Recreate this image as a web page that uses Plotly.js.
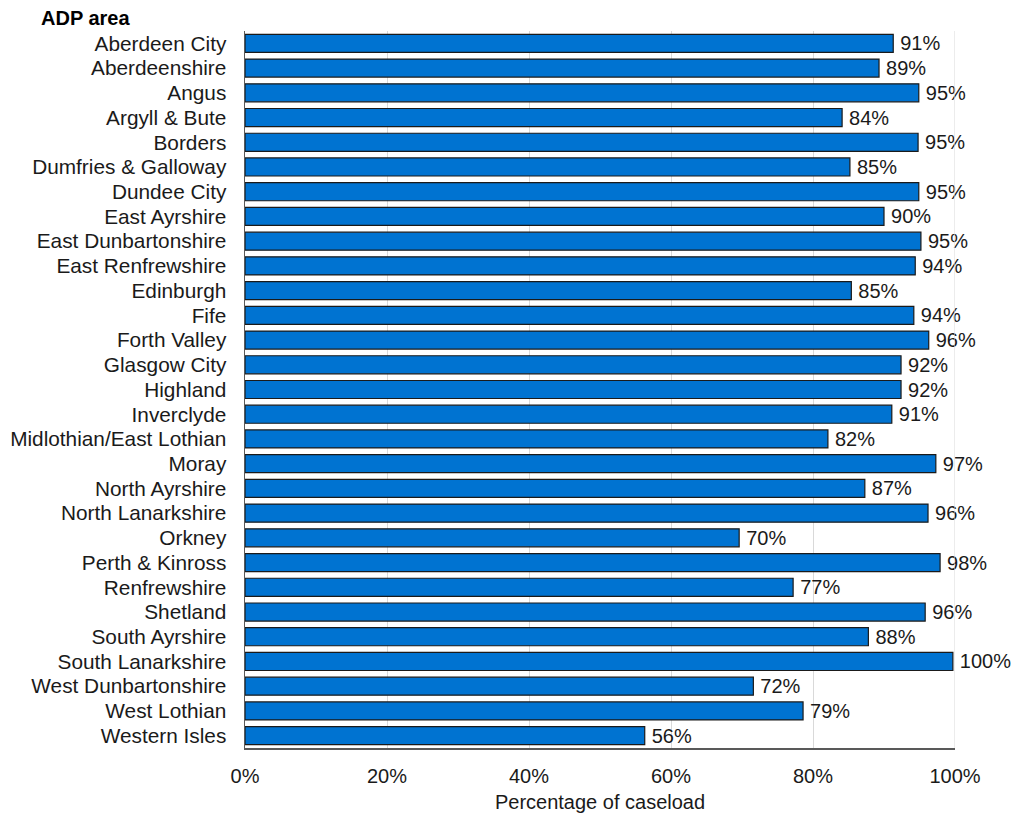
<!DOCTYPE html>
<html><head><meta charset="utf-8">
<script src="https://cdn.plot.ly/plotly-3.0.1.min.js"></script>
<style>body{margin:0;background:#fff}</style>
</head><body><div id="chart" style="width:1012px;height:816px"></div>
<script>
const areas = ["Aberdeen City","Aberdeenshire","Angus","Argyll & Bute","Borders","Dumfries & Galloway","Dundee City","East Ayrshire","East Dunbartonshire","East Renfrewshire","Edinburgh","Fife","Forth Valley","Glasgow City","Highland","Inverclyde","Midlothian/East Lothian","Moray","North Ayrshire","North Lanarkshire","Orkney","Perth & Kinross","Renfrewshire","Shetland","South Ayrshire","South Lanarkshire","West Dunbartonshire","West Lothian","Western Isles"];
const pct = [91.3,89.3,94.9,84.1,94.8,85.2,94.9,90.0,95.2,94.4,85.4,94.2,96.3,92.4,92.4,91.1,82.1,97.3,87.3,96.2,69.6,97.9,77.2,95.8,87.8,99.7,71.6,78.6,56.3];
const xTicks = [0,20,40,60,80,100];
const xTickText = ["0%","20%","40%","60%","80%","100%"];

const font = {family:"Liberation Sans, Arial, sans-serif", size:20, color:"#1a1a1a"};
Plotly.newPlot("chart",[{
  type:"bar", orientation:"h", y:areas, x:pct,
  marker:{color:"#0073D1", line:{color:"#1a1a1a", width:1.2}},
  text:pct.map(v=>"\u2009"+Math.round(v)+"%"), textposition:"outside", constraintext:"none",
  textfont:{family:font.family,size:20,color:"#1a1a1a"},
  cliponaxis:false, hoverinfo:"none"
}],{
  width:1012, height:816, margin:{l:245,r:57,t:31,b:68},
  paper_bgcolor:"#fff", plot_bgcolor:"#fff", font:font,
  bargap:0.27, showlegend:false,
  xaxis:{range:[0,100], tickvals:xTicks, ticktext:xTickText, showgrid:true, gridcolor:"#d9d9d9", gridwidth:1,
    showline:true, linecolor:"#595959", linewidth:1.5, ticks:"", zeroline:false, ticklabelstandoff:9,
    title:{text:"Percentage of caseload", font:{family:font.family,size:20,color:"#1a1a1a"}, standoff:9}},
  yaxis:{autorange:"reversed", tickmode:"array", tickvals:areas, ticktext:areas, showline:true, linecolor:"#595959", linewidth:1.5, ticks:"", showgrid:false, ticklabelstandoff:13, automargin:false,
    tickfont:{family:font.family,size:20.8,color:"#1a1a1a"}},
  annotations:[{text:"<b>ADP area</b>", xref:"paper", yref:"paper", x:-0.2895, y:1, xanchor:"left", yanchor:"bottom", yshift:0, showarrow:false, font:{family:font.family,size:20,color:"#000"}}],
  shapes:[{type:"line", xref:"x", yref:"paper", x0:100, x1:100, y0:0, y1:1, line:{color:"#d9d9d9", width:1}}]
},{displayModeBar:false, staticPlot:true});
</script></body></html>
